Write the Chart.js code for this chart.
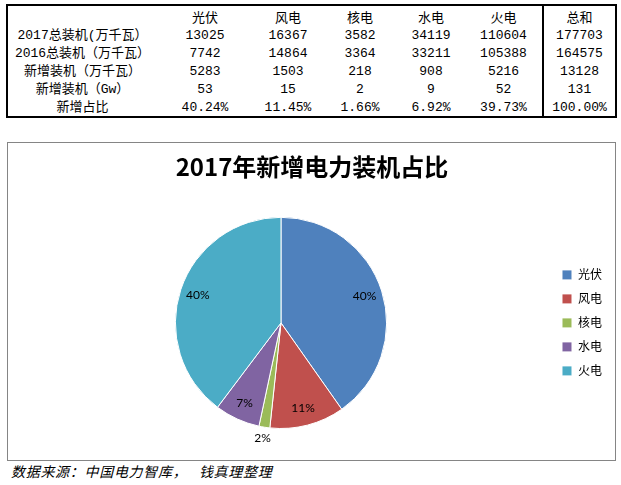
<!DOCTYPE html>
<html>
<head>
<meta charset="utf-8">
<script src="https://cdn.jsdelivr.net/npm/chart.js@4"></script>
<style>
  body { margin: 0; background: #fff; width: 621px; height: 485px; position: relative; overflow: hidden; }
  #tbl {
    position: absolute; left: 6px; top: 4px; width: 609px;
    border-collapse: collapse; table-layout: fixed;
    border: 2px solid #000;
    font: 13px "Liberation Mono", "Noto Sans CJK SC", monospace;
    color: #000;
  }
  #tbl td { padding: 0; text-align: center; line-height: 17px; height: 17.8px; white-space: nowrap; overflow: visible; }
  #tbl tr.head td { height: 21px; vertical-align: bottom; }
  #tbl td.sep { border-left: 2px solid #000; }
  #box {
    position: absolute; left: 7px; top: 142px; width: 607px; height: 317px;
    border: 1px solid #858585;
  }
  #caption {
    position: absolute; left: 11px; top: 461px;
    font: italic 14px "Noto Sans CJK SC", sans-serif; color: #000;
    letter-spacing: 0.7px;
    white-space: pre;
  }
</style>
</head>
<body>
<table id="tbl">
  <colgroup>
    <col style="width:150px"><col style="width:96px"><col style="width:70px">
    <col style="width:74px"><col style="width:68px"><col style="width:78px"><col style="width:73px">
  </colgroup>
  <tbody id="tbody"></tbody>
</table>
<div id="box"><canvas id="pieChart"></canvas></div>
<div id="caption">数据来源：中国电力智库，   钱真理整理</div>

<script>
// ---- data ----
const categories = ['光伏', '风电', '核电', '水电', '火电'];
const total2017 = [13025, 16367, 3582, 34119, 110604];
const total2016 = [7742, 14864, 3364, 33211, 105388];
const newAdded = [5283, 1503, 218, 908, 5216];
const newAddedGw = [53, 15, 2, 9, 52];
const newShare = ['40.24%', '11.45%', '1.66%', '6.92%', '39.73%'];
const sumColumn = ['177703', '164575', '13128', '131', '100.00%'];
const rowLabels = ['2017总装机(万千瓦）', '2016总装机（万千瓦）', '新增装机（万千瓦）', '新增装机（Gw）', '新增占比'];
const sliceColors = ['#4F81BD', '#C0504D', '#9BBB59', '#8064A2', '#4BACC6'];

/* ================= TABLE ================= */
const tbody = document.getElementById('tbody');
const rows = [total2017, total2016, newAdded, newAddedGw, newShare];

function addRow(cells, cls) {
  const tr = document.createElement('tr');
  if (cls) tr.className = cls;
  cells.forEach((c, i) => {
    const td = document.createElement('td');
    td.textContent = c;
    if (i === 6) td.className = 'sep';
    tr.appendChild(td);
  });
  tbody.appendChild(tr);
}

addRow([''].concat(categories, ['总和']), 'head');
rows.forEach((r, i) => addRow([rowLabels[i]].concat(r, [sumColumn[i]])));

/* ================= PIE ================= */
const pieLabels = {
  id: 'pieLabels',
  afterDatasetsDraw(chart) {
    const ctx = chart.ctx;
    const meta = chart.getDatasetMeta(0);
    const values = chart.data.datasets[0].data;
    const sum = values.reduce((a, b) => a + b, 0);
    ctx.save();
    ctx.font = '12px Lato, "Liberation Sans", sans-serif';
    ctx.fillStyle = '#000';
    ctx.textAlign = 'center';
    ctx.textBaseline = 'middle';
    meta.data.forEach((arc, i) => {
      const p = arc.getProps(['x', 'y', 'startAngle', 'endAngle', 'outerRadius'], true);
      const pct = values[i] / sum * 100;
      const mid = (p.startAngle + p.endAngle) / 2;
      const r = pct < 3 ? p.outerRadius + 11 : p.outerRadius * 0.83;
      ctx.fillText(Math.round(pct) + '%', p.x + Math.cos(mid) * r, p.y + Math.sin(mid) * r);
    });
    ctx.restore();
  }
};

new Chart(document.getElementById('pieChart').getContext('2d'), {
  type: 'pie',
  data: {
    labels: categories,
    datasets: [{
      data: newAdded,
      backgroundColor: sliceColors,
      borderColor: '#fff',
      borderWidth: 1
    }]
  },
  options: {
    responsive: true,
    maintainAspectRatio: false,
    animation: false,
    layout: { padding: { left: 4, right: 3, top: 0, bottom: 31 } },
    plugins: {
      title: {
        display: true,
        text: '2017年新增电力装机占比',
        color: '#000',
        font: { family: '"Noto Sans CJK SC", sans-serif', size: 24, weight: 'bold' },
        padding: { top: 9, bottom: 36 }
      },
      legend: {
        position: 'right',
        fullSize: false,
        labels: {
          boxWidth: 10,
          boxHeight: 10,
          padding: 12,
          color: '#000',
          font: { family: '"Noto Sans CJK SC", sans-serif', size: 12 }
        }
      },
      tooltip: { enabled: false }
    }
  },
  plugins: [pieLabels]
});
</script>
</body>
</html>
